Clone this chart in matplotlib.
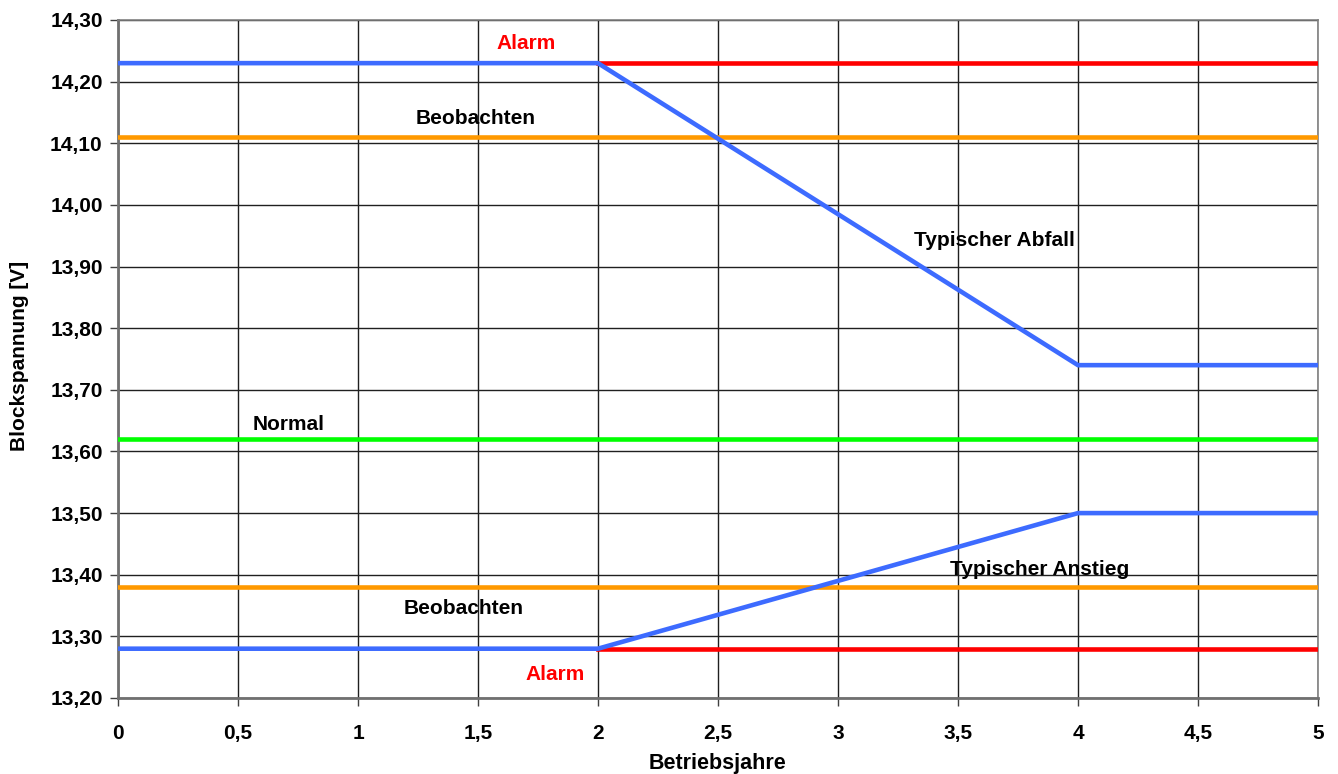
import matplotlib
matplotlib.use("Agg")
import matplotlib.pyplot as plt
from matplotlib.ticker import FuncFormatter, MultipleLocator

# Data
years = [0, 2, 4, 5]
abfall = [14.23, 14.23, 13.74, 13.74]
anstieg = [13.28, 13.28, 13.50, 13.50]
alarm_hi = ([2, 5], [14.23, 14.23])
alarm_lo = ([2, 5], [13.28, 13.28])
beob_hi = ([0, 5], [14.11, 14.11])
beob_lo = ([0, 5], [13.38, 13.38])
normal = ([0, 5], [13.62, 13.62])

labels = [
    ("Alarm", 1.70, 14.262, "#ff0000"),
    ("Beobachten", 1.49, 14.14, "black"),
    ("Typischer Abfall", 3.65, 13.942, "black"),
    ("Normal", 0.71, 13.643, "black"),
    ("Typischer Anstieg", 3.84, 13.408, "black"),
    ("Beobachten", 1.44, 13.345, "black"),
    ("Alarm", 1.82, 13.238, "#ff0000"),
]

plt.rcParams['font.family'] = ['Liberation Sans', 'DejaVu Sans']
fig = plt.figure(figsize=(13.38, 7.74), dpi=100)
ax = fig.add_axes([118/1338, 1-698/774, 1200/1338, 678/774])

lw = 3.3
ax.plot(*alarm_hi, color="#ff0000", lw=lw, zorder=3)
ax.plot(*alarm_lo, color="#ff0000", lw=lw, zorder=3)
ax.plot(*beob_hi, color="#ff9900", lw=lw, zorder=3)
ax.plot(*beob_lo, color="#ff9900", lw=lw, zorder=3)
ax.plot(*normal, color="#00ff00", lw=lw, zorder=3)
ax.plot(years, abfall, color="#3d6bff", lw=lw, zorder=4, solid_joinstyle="miter")
ax.plot(years, anstieg, color="#3d6bff", lw=lw, zorder=4, solid_joinstyle="miter")

for txt, x, y, c in labels:
    ax.text(x, y, txt, color=c, fontsize=15, fontweight="bold", ha="center", va="center", zorder=5)

ax.set_xlim(0, 5)
ax.set_ylim(13.20, 14.30)
ax.xaxis.set_major_locator(MultipleLocator(0.5))
ax.yaxis.set_major_locator(MultipleLocator(0.1))
ax.xaxis.set_major_formatter(FuncFormatter(lambda v, p: f"{v:g}".replace(".", ",")))
ax.yaxis.set_major_formatter(FuncFormatter(lambda v, p: f"{v:.2f}".replace(".", ",")))
ax.grid(True, color="#202020", lw=1.0)
ax.set_axisbelow(True)
for lab in ax.get_xticklabels() + ax.get_yticklabels():
    lab.set_fontweight("bold")
ax.tick_params(axis="both", labelsize=15, direction="out", length=6, width=1, color="#404040", pad=5)
ax.tick_params(axis="x", pad=13)
for s in ["left", "bottom"]:
    ax.spines[s].set_color("#707070")
    ax.spines[s].set_linewidth(2)
for s in ["top", "right"]:
    ax.spines[s].set_color("#808080")
    ax.spines[s].set_linewidth(1.2)

fig.text(718/1338, 1-763/774, "Betriebsjahre", fontsize=15.5, fontweight="bold",
         ha="center", va="center")
fig.text(20/1338, 1-356/774, "Blockspannung [V]", fontsize=15, fontweight="bold",
         ha="center", va="center", rotation=90)

fig.savefig("out.png", dpi=100, facecolor="white")
